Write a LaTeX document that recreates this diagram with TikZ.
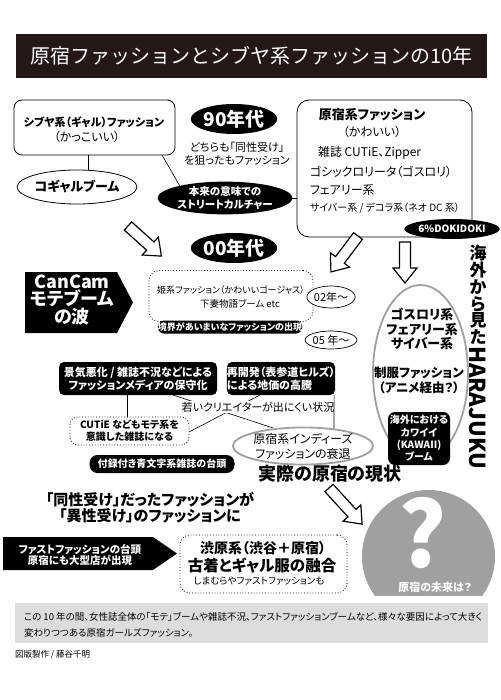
\documentclass[tikz,border=0pt]{standalone}
\usepackage{fontspec}
\setmainfont{Noto Sans CJK JP}[RawFeature=+palt]
\usetikzlibrary{shapes.geometric}
\newcommand{\fz}[2]{\fontsize{#1}{#2}\selectfont}
\definecolor{titlebg}{HTML}{231815}
\definecolor{midgray}{HTML}{9FA0A0}
\definecolor{notegray}{HTML}{DCDDDD}
\definecolor{ringgray}{HTML}{A0A0A0}
\newcommand{\harrow}[4]{%
  \begin{scope}[shift={(#1,#2)}, rotate=#3]
    \draw[hollow] (0,-5.5) -- (#4-15,-5.5) -- (#4-15,-12) -- (#4,0) -- (#4-15,12) -- (#4-15,5.5) -- (0,5.5) -- cycle;
  \end{scope}}
\begin{document}
\begin{tikzpicture}[x=1pt,y=-1pt,
  every node/.style={inner sep=0pt, outer sep=0pt},
  blackell/.style={ellipse, fill=black, text=white, align=center},
  whiteell/.style={ellipse, draw=black, line width=0.7pt, fill=white, align=center},
  blackbox/.style={rounded corners=5pt, fill=black, text=white, align=center},
  dotbox/.style={draw=black, dotted, line width=0.8pt, rounded corners=10pt, align=center},
  hollow/.style={draw=black, fill=white, line width=1.2pt, line join=miter},
  conn/.style={draw=black, line width=0.6pt}
]
\useasboundingbox (0,0) rectangle (500,700);
\fill[white] (0,0) rectangle (500,700);

% title
\node[fill=titlebg, minimum width=471pt, minimum height=44pt, text=white,
  font={\fz{20}{22}\addfontfeature{RawFeature=-palt}}] (title) at (251.5,56)
  {原宿ファッションとシブヤ系ファッションの10年};

% shibuya
\node[draw, rounded corners=8pt, line width=0.8pt, minimum width=161pt, minimum height=55pt] (shibuya) at (94.5,127.5) {};
\node[font={\fz{11}{13}\bfseries}] (shibuyaT) at (94,122) {シブヤ系（ギャル）ファッション};
\node[font={\fz{12}{14}}] (shibuyaS) at (87,137) {（かっこいい）};
\node[whiteell, line width=0.8pt, minimum width=94pt, minimum height=34pt, font={\fz{13}{15}\bfseries}] (kogal) at (77,187) {コギャルブーム};

% 90s
\node[blackell, minimum width=86pt, minimum height=30pt, font={\fz{19}{22}\bfseries}] (y90) at (234,119) {90年代};
\node[align=center, font={\fz{11}{12.5}}] (both) at (237,154) {どちらも「同性受け」\\を狙ったもファッション};
\node[blackell, minimum width=134pt, minimum height=30pt, font={\fz{10.5}{13}\bfseries}] (honrai) at (225,198) {本来の意味での\\ストリートカルチャー};

% harajuku box
\node[draw, rounded corners=12pt, line width=0.8pt, minimum width=175pt, minimum height=137pt] (harajuku) at (384.5,168.5) {};
\node[font={\fz{13}{15}\bfseries}] (h1) at (372,115) {原宿系ファッション};
\node[font={\fz{12}{14}}] (h2) at (372,132) {（かわいい）};
\node[anchor=west, font={\fz{12}{14}}] (h3) at (318,153) {雑誌 CUTiE、Zipper};
\node[anchor=west, font={\fz{12}{14}}] (h4) at (310,172) {ゴシックロリータ（ゴスロリ）};
\node[anchor=west, font={\fz{12}{14}}] (h5) at (310,190) {フェアリー系};
\node[anchor=west, font={\fz{10}{12}}] (h6) at (310,208) {サイバー系 / デコラ系（ネオ DC 系）};
\node[blackell, minimum width=74pt, minimum height=20pt, font={\fz{10}{12}\bfseries}] (doki) at (452,229) {6\%DOKIDOKI};

% connectors top
\draw[conn] ([xshift=-6.5pt]shibuya.south) -- ([xshift=-6.5pt]shibuya.south |- kogal.north);
\draw[conn] ([xshift=-13pt]shibuya.south east) -- (honrai.165);
\draw[conn] (honrai.east) -- (honrai.east -| harajuku.west);

% 00s
\node[blackell, minimum width=86pt, minimum height=30pt, font={\fz{19}{22}\bfseries}] (y00) at (234,248) {00年代};
\node[dotbox, minimum width=164pt, minimum height=51pt] (himebox) at (231,296) {};
\node[font={\fz{9}{11}}] (hime1) at (231,290) {姫系ファッション（かわいいゴージャス）};
\node[font={\fz{9.5}{11}}] (hime2) at (240,304) {下妻物語ブーム etc};
\node[blackbox, rounded corners=6pt, minimum width=136pt, minimum height=13pt, font={\fz{9}{10}\bfseries}] (kyokai) at (230,327) {境界があいまいなファッションの出現};
\node[whiteell, minimum width=44pt, minimum height=22pt, font={\fz{11}{12}}] (y02) at (331,297) {02年～};
\node[whiteell, minimum width=44pt, minimum height=18pt, font={\fz{11}{12}}] (y05) at (331,340) {05 年～};

% CanCam
\fill (25,272) -- (117,272) -- (133,302.5) -- (117,333) -- (25,333) -- cycle;
\node[text=white, align=center, font={\fz{18}{17.5}\bfseries}] (cancam) at (72,300) {CanCam\\モテブーム\\の波};

% right ring
\node[ellipse, draw=ringgray, line width=1.8pt, minimum width=95pt, minimum height=176pt] (ring) at (420.5,373) {};
\node[align=center, font={\fz{13}{14.5}\bfseries}] (gosu) at (422,329) {ゴスロリ系\\フェアリー系\\サイバー系};
\node[align=center, font={\fz{12.5}{15}\bfseries}] (seifuku) at (419,380.5) {制服ファッション\\（アニメ経由？）};
\node[blackbox, rounded corners=7pt, minimum width=62pt, minimum height=53pt, font={\fz{10}{12.3}\bfseries}] (kaigai) at (419,438.5) {海外における\\カワイイ\\(KAWAII)\\ブーム};
\node[align=center, font={\fz{17}{16.8}\bfseries}] (vjp) at (478,295) {海\\外\\か\\ら\\見\\た};
\node[rotate=-90, anchor=west, font={\fz{22}{22}\bfseries}] (hrj) at (478,346) {HARAJUKU};

% middle
\draw[conn] (173,395) coordinate (kA) -- (273,428) coordinate (iA);
\draw[conn] (260,395) coordinate (sA) -- (189,432) coordinate (cA);
\node[blackbox, minimum width=158pt, minimum height=33pt, font={\fz{11}{13}\bfseries}] (keiki) at (138,378.5) {景気悪化 / 雑誌不況などによる\\ファッションメディアの保守化};
\node[blackbox, align=left, minimum width=108pt, minimum height=33pt, font={\fz{11}{13}\bfseries}] (saikai) at (281,378.5) {再開発（表参道ヒルズ）\\による地価の高騰};
\node[fill=white, inner sep=1pt, font={\fz{11}{12}}] (wakai) at (258,407) {若いクリエイターが出にくい状況};
\node[dotbox, rounded corners=8pt, minimum width=119pt, minimum height=28pt, fill=white, font={\fz{10}{12}\bfseries}] (cutie) at (129.5,431) {CUTiE などもモテ系を\\意識した雑誌になる};
\draw[conn] ([xshift=-11pt]keiki.south) -- ([xshift=-11pt]keiki.south |- cutie.north);
\draw[conn] ([xshift=-1pt]saikai.south east) -- (334,432);
\node[ellipse, draw=ringgray, line width=1.8pt, fill=white, minimum width=120pt, minimum height=34pt, align=center, font={\fz{12}{15}}] (indies) at (303,446) {原宿系インディーズ\\ファッションの衰退};
\node[font={\fz{18}{20}\bfseries}] (jissai) at (330,474) {実際の原宿の現状};
\node[blackbox, rounded corners=8pt, minimum width=145pt, minimum height=18pt, font={\fz{10}{12}\bfseries}] (furoku) at (162,464) {付録付き青文字系雑誌の台頭};
\node[align=center, font={\fz{15}{15.5}\bfseries}] (dousei) at (150,507.5) {「同性受け」だったファッションが\\「異性受け」のファッションに};

% fast fashion
\fill (3,537) -- (153,537) -- (177,553.5) -- (153,570) -- (3,570) -- cycle;
\node[text=white, align=center, font={\fz{10.5}{11}\bfseries}] (fast) at (80,554.5) {ファストファッションの台頭\\原宿にも大型店が出現};
\node[dotbox, minimum width=167pt, minimum height=58pt] (shibuhara) at (263.5,564) {};
\node[font={\fz{14}{15}\bfseries}] (sh1) at (263,548) {渋原系（渋谷＋原宿）};
\node[font={\fz{15.5}{17}\bfseries}] (sh2) at (262,566) {古着とギャル服の融合};
\node[font={\fz{9.5}{11}}] (sh3) at (259,581) {しまむらやファストファッションも};

% future circle
\begin{scope}
  \clip (0,0) rectangle (500,595);
  \fill[midgray] (428.5,556.5) circle (66.5);
\end{scope}
\node[text=white, font={\fz{90}{92}\bfseries}] (qmark) at (423,533) {?};
\node[text=white, font={\fz{11}{12}\bfseries}] (future) at (435,587) {原宿の未来は？};

% hollow arrows
\harrow{128}{226}{-42}{45}
\harrow{358}{236}{-127}{45}
\harrow{405}{242}{-90}{41}
\harrow{329}{488}{-47.5}{49}

% note
\node[fill=notegray, minimum width=473pt, minimum height=40pt] (note) at (251.5,623) {};
\node[anchor=west, font={\fz{9.5}{11}}] (note1) at (24,617) {この 10 年の間、女性誌全体の「モテ」ブームや雑誌不況、ファストファッションブームなど、様々な要因によって大きく};
\node[anchor=west, font={\fz{9.5}{11}}] (note2) at (24,633) {変わりつつある原宿ガールズファッション。};
\node[anchor=west, font={\fz{8.5}{10}}] (credit) at (15,655) {図版製作 / 藤谷千明};
\end{tikzpicture}
\end{document}
